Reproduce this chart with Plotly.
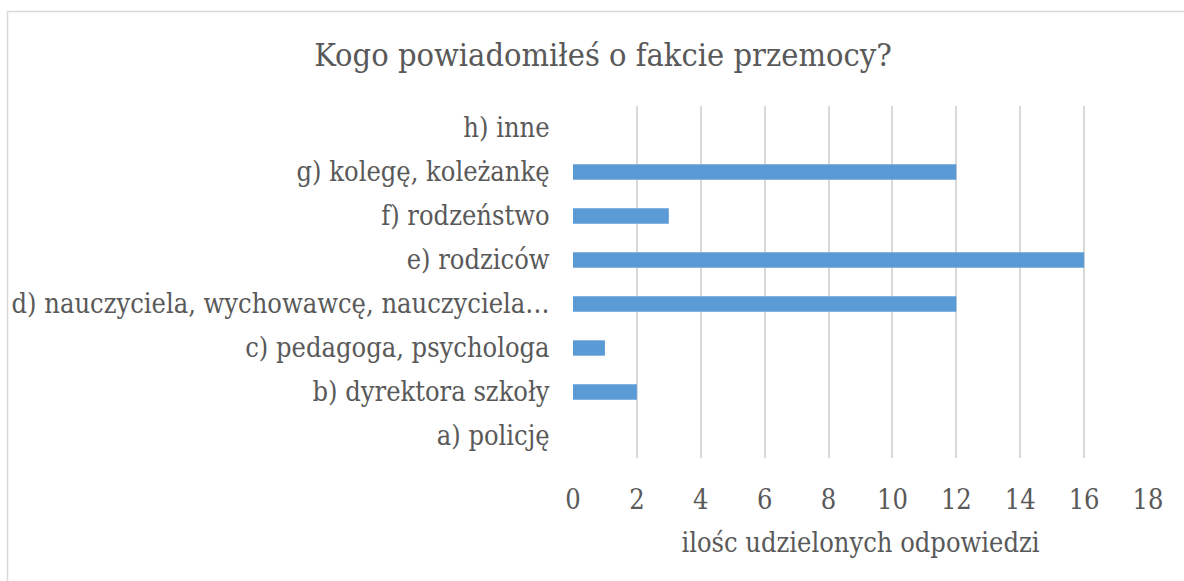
import plotly.graph_objects as go

categories = [
    "a) policję",
    "b) dyrektora szkoły",
    "c) pedagoga, psychologa",
    "d) nauczyciela, wychowawcę, nauczyciela…",
    "e) rodziców",
    "f) rodzeństwo",
    "g) kolegę, koleżankę",
    "h) inne",
]
values = [0, 2, 1, 12, 16, 3, 12, 0]
x_ticks = [0, 2, 4, 6, 8, 10, 12, 14, 16, 18]
title_text = "Kogo powiadomiłeś o fakcie przemocy?"
x_title = "ilośc udzielonych odpowiedzi"

FONT = "DejaVu Serif Condensed, Liberation Serif, serif"
TXT = "#595959"

fig = go.Figure(go.Bar(
    y=categories, x=values, orientation="h",
    marker=dict(color="#5B9BD5", line=dict(width=0)),
    width=0.35,
))

L, R, T, B = 573, 36, 106, 123
W, H = 1184, 581
pw, ph = W - L - R, H - T - B

def px_x(p):
    return (p - L) / pw

def px_y(p):
    return (H - B - p) / ph

fig.update_layout(
    width=W, height=H,
    margin=dict(l=L, r=R, t=T, b=B),
    plot_bgcolor="white", paper_bgcolor="white",
    showlegend=False,
    title=dict(text=title_text, x=603 / W, xanchor="center", y=1 - 55 / H, yanchor="middle",
               font=dict(family=FONT, size=32.3, color=TXT)),
    font=dict(family=FONT, color=TXT),
    xaxis=dict(range=[0, 18], tickvals=x_ticks, showgrid=True, gridcolor="#D9D9D9", gridwidth=1.5,
               zeroline=False, showline=False, ticks="outside", ticklen=18, tickcolor="rgba(0,0,0,0)",
               tickfont=dict(size=27, color=TXT),
               title=dict(text=x_title, font=dict(size=27, color=TXT), standoff=18)),
    yaxis=dict(type="category", categoryorder="array", categoryarray=categories,
               showgrid=False, zeroline=False, showline=False,
               ticks="outside", ticklen=17, tickcolor="rgba(0,0,0,0)",
               tickfont=dict(size=27, color=TXT)),
    shapes=[
        dict(type="line", xref="paper", yref="paper",
             x0=px_x(7.5), x1=px_x(1184), y0=px_y(11.5), y1=px_y(11.5),
             line=dict(color="#D9D9D9", width=1.5), layer="below"),
        dict(type="line", xref="paper", yref="paper",
             x0=px_x(7.5), x1=px_x(7.5), y0=px_y(11.5), y1=px_y(581),
             line=dict(color="#D9D9D9", width=1.5), layer="below"),
    ],
)

fig.write_html("out.html", config={"displayModeBar": False},
               post_script="document.body.style.margin='0px';")
